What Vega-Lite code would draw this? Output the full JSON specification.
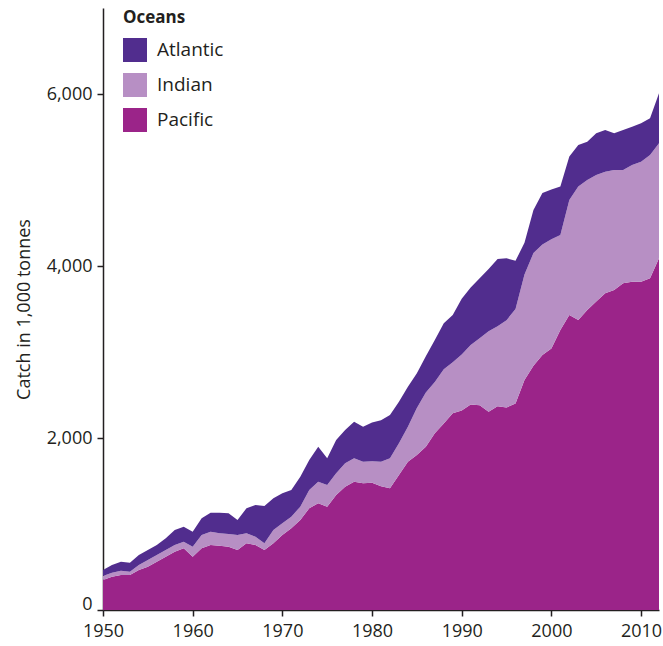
{
  "$schema": "https://vega.github.io/schema/vega-lite/v6.json",
  "width": 556,
  "height": 602,
  "autosize": "none",
  "padding": {"left": 103, "top": 8, "right": 4, "bottom": 36},
  "background": "white",
  "config": {
    "view": {"stroke": null},
    "font": "Open Sans",
    "axis": {"labelFont": "Open Sans", "titleFont": "Open Sans", "labelColor": "#231f20", "titleColor": "#231f20", "domainColor": "#231f20", "tickColor": "#231f20", "grid": false}
  },
  "data": {"values": [
    {"year":1950,"ocean":"Pacific","catch":349},{"year":1950,"ocean":"Indian","catch":46},{"year":1950,"ocean":"Atlantic","catch":70},
    {"year":1951,"ocean":"Pacific","catch":387},{"year":1951,"ocean":"Indian","catch":47},{"year":1951,"ocean":"Atlantic","catch":89},
    {"year":1952,"ocean":"Pacific","catch":407},{"year":1952,"ocean":"Indian","catch":50},{"year":1952,"ocean":"Atlantic","catch":105},
    {"year":1953,"ocean":"Pacific","catch":407},{"year":1953,"ocean":"Indian","catch":39},{"year":1953,"ocean":"Atlantic","catch":104},
    {"year":1954,"ocean":"Pacific","catch":465},{"year":1954,"ocean":"Indian","catch":58},{"year":1954,"ocean":"Atlantic","catch":117},
    {"year":1955,"ocean":"Pacific","catch":504},{"year":1955,"ocean":"Indian","catch":77},{"year":1955,"ocean":"Atlantic","catch":117},
    {"year":1956,"ocean":"Pacific","catch":562},{"year":1956,"ocean":"Indian","catch":77},{"year":1956,"ocean":"Atlantic","catch":117},
    {"year":1957,"ocean":"Pacific","catch":620},{"year":1957,"ocean":"Indian","catch":78},{"year":1957,"ocean":"Atlantic","catch":135},
    {"year":1958,"ocean":"Pacific","catch":678},{"year":1958,"ocean":"Indian","catch":78},{"year":1958,"ocean":"Atlantic","catch":174},
    {"year":1959,"ocean":"Pacific","catch":717},{"year":1959,"ocean":"Indian","catch":78},{"year":1959,"ocean":"Atlantic","catch":174},
    {"year":1960,"ocean":"Pacific","catch":620},{"year":1960,"ocean":"Indian","catch":116},{"year":1960,"ocean":"Atlantic","catch":175},
    {"year":1961,"ocean":"Pacific","catch":717},{"year":1961,"ocean":"Indian","catch":155},{"year":1961,"ocean":"Atlantic","catch":194},
    {"year":1962,"ocean":"Pacific","catch":756},{"year":1962,"ocean":"Indian","catch":155},{"year":1962,"ocean":"Atlantic","catch":221},
    {"year":1963,"ocean":"Pacific","catch":748},{"year":1963,"ocean":"Indian","catch":143},{"year":1963,"ocean":"Atlantic","catch":241},
    {"year":1964,"ocean":"Pacific","catch":736},{"year":1964,"ocean":"Indian","catch":148},{"year":1964,"ocean":"Atlantic","catch":240},
    {"year":1965,"ocean":"Pacific","catch":698},{"year":1965,"ocean":"Indian","catch":174},{"year":1965,"ocean":"Atlantic","catch":175},
    {"year":1966,"ocean":"Pacific","catch":775},{"year":1966,"ocean":"Indian","catch":116},{"year":1966,"ocean":"Atlantic","catch":291},
    {"year":1967,"ocean":"Pacific","catch":756},{"year":1967,"ocean":"Indian","catch":97},{"year":1967,"ocean":"Atlantic","catch":368},
    {"year":1968,"ocean":"Pacific","catch":698},{"year":1968,"ocean":"Indian","catch":77},{"year":1968,"ocean":"Atlantic","catch":434},
    {"year":1969,"ocean":"Pacific","catch":775},{"year":1969,"ocean":"Indian","catch":155},{"year":1969,"ocean":"Atlantic","catch":368},
    {"year":1970,"ocean":"Pacific","catch":872},{"year":1970,"ocean":"Indian","catch":136},{"year":1970,"ocean":"Atlantic","catch":349},
    {"year":1971,"ocean":"Pacific","catch":950},{"year":1971,"ocean":"Indian","catch":135},{"year":1971,"ocean":"Atlantic","catch":310},
    {"year":1972,"ocean":"Pacific","catch":1047},{"year":1972,"ocean":"Indian","catch":155},{"year":1972,"ocean":"Atlantic","catch":348},
    {"year":1973,"ocean":"Pacific","catch":1182},{"year":1973,"ocean":"Indian","catch":213},{"year":1973,"ocean":"Atlantic","catch":349},
    {"year":1974,"ocean":"Pacific","catch":1240},{"year":1974,"ocean":"Indian","catch":252},{"year":1974,"ocean":"Atlantic","catch":407},
    {"year":1975,"ocean":"Pacific","catch":1202},{"year":1975,"ocean":"Indian","catch":251},{"year":1975,"ocean":"Atlantic","catch":311},
    {"year":1976,"ocean":"Pacific","catch":1337},{"year":1976,"ocean":"Indian","catch":252},{"year":1976,"ocean":"Atlantic","catch":388},
    {"year":1977,"ocean":"Pacific","catch":1434},{"year":1977,"ocean":"Indian","catch":271},{"year":1977,"ocean":"Atlantic","catch":388},
    {"year":1978,"ocean":"Pacific","catch":1492},{"year":1978,"ocean":"Indian","catch":272},{"year":1978,"ocean":"Atlantic","catch":426},
    {"year":1979,"ocean":"Pacific","catch":1473},{"year":1979,"ocean":"Indian","catch":252},{"year":1979,"ocean":"Atlantic","catch":407},
    {"year":1980,"ocean":"Pacific","catch":1480},{"year":1980,"ocean":"Indian","catch":250},{"year":1980,"ocean":"Atlantic","catch":450},
    {"year":1981,"ocean":"Pacific","catch":1440},{"year":1981,"ocean":"Indian","catch":285},{"year":1981,"ocean":"Atlantic","catch":480},
    {"year":1982,"ocean":"Pacific","catch":1415},{"year":1982,"ocean":"Indian","catch":349},{"year":1982,"ocean":"Atlantic","catch":503},
    {"year":1983,"ocean":"Pacific","catch":1570},{"year":1983,"ocean":"Indian","catch":368},{"year":1983,"ocean":"Atlantic","catch":484},
    {"year":1984,"ocean":"Pacific","catch":1725},{"year":1984,"ocean":"Indian","catch":407},{"year":1984,"ocean":"Atlantic","catch":465},
    {"year":1985,"ocean":"Pacific","catch":1802},{"year":1985,"ocean":"Indian","catch":548},{"year":1985,"ocean":"Atlantic","catch":402},
    {"year":1986,"ocean":"Pacific","catch":1899},{"year":1986,"ocean":"Indian","catch":631},{"year":1986,"ocean":"Atlantic","catch":420},
    {"year":1987,"ocean":"Pacific","catch":2054},{"year":1987,"ocean":"Indian","catch":596},{"year":1987,"ocean":"Atlantic","catch":490},
    {"year":1988,"ocean":"Pacific","catch":2170},{"year":1988,"ocean":"Indian","catch":630},{"year":1988,"ocean":"Atlantic","catch":533},
    {"year":1989,"ocean":"Pacific","catch":2287},{"year":1989,"ocean":"Indian","catch":593},{"year":1989,"ocean":"Atlantic","catch":550},
    {"year":1990,"ocean":"Pacific","catch":2320},{"year":1990,"ocean":"Indian","catch":650},{"year":1990,"ocean":"Atlantic","catch":650},
    {"year":1991,"ocean":"Pacific","catch":2390},{"year":1991,"ocean":"Indian","catch":690},{"year":1991,"ocean":"Atlantic","catch":670},
    {"year":1992,"ocean":"Pacific","catch":2380},{"year":1992,"ocean":"Indian","catch":780},{"year":1992,"ocean":"Atlantic","catch":697},
    {"year":1993,"ocean":"Pacific","catch":2306},{"year":1993,"ocean":"Indian","catch":934},{"year":1993,"ocean":"Atlantic","catch":725},
    {"year":1994,"ocean":"Pacific","catch":2370},{"year":1994,"ocean":"Indian","catch":930},{"year":1994,"ocean":"Atlantic","catch":780},
    {"year":1995,"ocean":"Pacific","catch":2355},{"year":1995,"ocean":"Indian","catch":1015},{"year":1995,"ocean":"Atlantic","catch":720},
    {"year":1996,"ocean":"Pacific","catch":2400},{"year":1996,"ocean":"Indian","catch":1100},{"year":1996,"ocean":"Atlantic","catch":560},
    {"year":1997,"ocean":"Pacific","catch":2675},{"year":1997,"ocean":"Indian","catch":1225},{"year":1997,"ocean":"Atlantic","catch":370},
    {"year":1998,"ocean":"Pacific","catch":2840},{"year":1998,"ocean":"Indian","catch":1310},{"year":1998,"ocean":"Atlantic","catch":500},
    {"year":1999,"ocean":"Pacific","catch":2965},{"year":1999,"ocean":"Indian","catch":1285},{"year":1999,"ocean":"Atlantic","catch":600},
    {"year":2000,"ocean":"Pacific","catch":3040},{"year":2000,"ocean":"Indian","catch":1270},{"year":2000,"ocean":"Atlantic","catch":580},
    {"year":2001,"ocean":"Pacific","catch":3256},{"year":2001,"ocean":"Indian","catch":1105},{"year":2001,"ocean":"Atlantic","catch":562},
    {"year":2002,"ocean":"Pacific","catch":3431},{"year":2002,"ocean":"Indian","catch":1337},{"year":2002,"ocean":"Atlantic","catch":504},
    {"year":2003,"ocean":"Pacific","catch":3372},{"year":2003,"ocean":"Indian","catch":1551},{"year":2003,"ocean":"Atlantic","catch":484},
    {"year":2004,"ocean":"Pacific","catch":3489},{"year":2004,"ocean":"Indian","catch":1511},{"year":2004,"ocean":"Atlantic","catch":446},
    {"year":2005,"ocean":"Pacific","catch":3586},{"year":2005,"ocean":"Indian","catch":1472},{"year":2005,"ocean":"Atlantic","catch":485},
    {"year":2006,"ocean":"Pacific","catch":3683},{"year":2006,"ocean":"Indian","catch":1414},{"year":2006,"ocean":"Atlantic","catch":485},
    {"year":2007,"ocean":"Pacific","catch":3721},{"year":2007,"ocean":"Indian","catch":1395},{"year":2007,"ocean":"Atlantic","catch":427},
    {"year":2008,"ocean":"Pacific","catch":3799},{"year":2008,"ocean":"Indian","catch":1317},{"year":2008,"ocean":"Atlantic","catch":466},
    {"year":2009,"ocean":"Pacific","catch":3818},{"year":2009,"ocean":"Indian","catch":1357},{"year":2009,"ocean":"Atlantic","catch":445},
    {"year":2010,"ocean":"Pacific","catch":3818},{"year":2010,"ocean":"Indian","catch":1395},{"year":2010,"ocean":"Atlantic","catch":446},
    {"year":2011,"ocean":"Pacific","catch":3857},{"year":2011,"ocean":"Indian","catch":1434},{"year":2011,"ocean":"Atlantic","catch":426},
    {"year":2012,"ocean":"Pacific","catch":4090},{"year":2012,"ocean":"Indian","catch":1337},{"year":2012,"ocean":"Atlantic","catch":581}
  ]},
  "mark": {"type": "area", "interpolate": "linear"},
  "encoding": {
    "x": {
      "field": "year", "type": "quantitative",
      "scale": {"domain": [1950, 2012], "nice": false, "zero": false},
      "axis": {"title": null, "values": [1950, 1960, 1970, 1980, 1990, 2000, 2010], "format": "d", "labelFontSize": 18, "labelPadding": 6, "tickSize": 6, "domainWidth": 1.5, "tickWidth": 1.5, "labelFlush": false}
    },
    "y": {
      "field": "catch", "type": "quantitative", "stack": "zero",
      "scale": {"domain": [0, 7000], "nice": false},
      "axis": {"title": "Catch in 1,000 tonnes", "values": [0, 2000, 4000, 6000], "format": ",.0f", "labelFontSize": 18, "titleFontSize": 18, "titleFontWeight": "normal", "titlePadding": 13, "labelPadding": 5, "tickSize": 6, "domainWidth": 1.5, "tickWidth": 1.5,
        "labelOffset": {"condition": {"test": "datum.value === 0", "value": -6}, "value": 0}}
    },
    "color": {
      "field": "ocean", "type": "nominal",
      "scale": {"domain": ["Atlantic", "Indian", "Pacific"], "range": ["#512d8e", "#b78fc4", "#9b2489"]},
      "legend": {"title": "Oceans", "orient": "none", "legendX": 20, "legendY": 2, "titleFontSize": 17, "titleFontWeight": "bold", "titleColor": "#231f20", "labelFontSize": 19, "labelColor": "#231f20", "symbolType": "square", "symbolSize": 576, "symbolStrokeWidth": 0, "symbolOpacity": 1, "rowPadding": 11, "labelOffset": 10, "titlePadding": 11}
    },
    "order": {"field": "ocean", "sort": "descending"}
  }
}
